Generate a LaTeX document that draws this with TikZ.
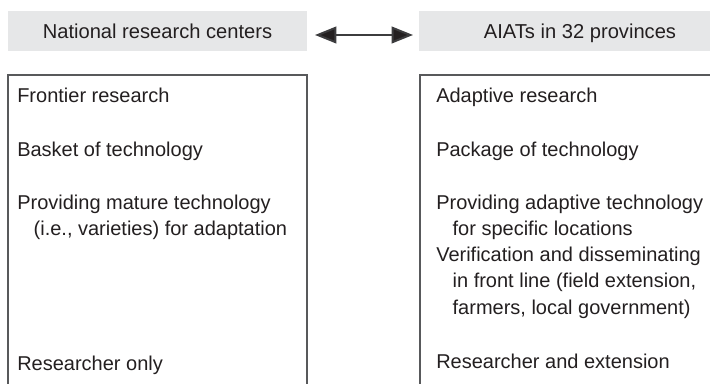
\documentclass[tikz,border=0pt]{standalone}
\usepackage{fontspec}
\setmainfont{Liberation Sans}
\usetikzlibrary{arrows.meta}
\definecolor{hdr}{RGB}{230,231,232}
\definecolor{ink}{RGB}{35,31,32}
\definecolor{frame}{RGB}{88,89,91}
\definecolor{linkc}{RGB}{60,60,62}
\begin{document}
\begin{tikzpicture}[x=0.75pt,y=-0.75pt,
  txt/.style={font=\fontsize{15}{19.7}\selectfont, text=ink, inner sep=0pt, anchor=base west, align=left},
  hdrbox/.style={fill=hdr, draw=none, minimum height=30pt, text height=10.7pt, text depth=0pt,
                 inner sep=0pt, font=\fontsize{15.1}{18}\selectfont, text=ink},
  panel/.style={draw=frame, line width=1.4pt, inner sep=0pt, minimum height=258.75pt},
  link/.style={draw=linkc, fill=ink, line width=1.5pt,
               {Triangle[length=16pt,width=12.5pt,fill=ink]}-{Triangle[length=16pt,width=12.5pt,fill=ink]}}]
\clip (0,0) rectangle (710,384);
% headers
\node[hdrbox, minimum width=224.25pt] (hl) at (157.5,31) {National research centers};
\node[hdrbox, minimum width=241.5pt] (hr) at (580,31) {AIATs in 32 provinces};
\coordinate (al) at (315,35);
\coordinate (ar) at (413,35);
\draw[link] (al) -- (ar);
% panels
\node[panel, minimum width=224.25pt] (pl) at (157.5,247.5) {};
\node[panel, minimum width=240.75pt] (pr) at (580.5,247.5) {};
% left texts (multi-line nodes are placed by the baseline of their last line)
\node[txt] (l1) at (17,102.7) {Frontier research};
\node[txt] (l2) at (17,156.7) {Basket of technology};
\node[txt] (l3) at (17,235.6) {Providing mature technology\\\hspace*{12.3pt}(i.e., varieties) for adaptation};
\node[txt] (l4) at (17,370) {Researcher only};
% right texts
\node[txt] (r1) at (436,102.7) {Adaptive research};
\node[txt] (r2) at (436,156.7) {Package of technology};
\node[txt] (r3) at (436,235.6) {Providing adaptive technology\\\hspace*{12.3pt}for specific locations};
\node[txt] (r4) at (436,314.2) {Verification and disseminating\\\hspace*{12.3pt}in front line (field extension,\\\hspace*{12.3pt}farmers, local government)};
\node[txt] (r5) at (436,368.3) {Researcher and extension};
\end{tikzpicture}
\end{document}
